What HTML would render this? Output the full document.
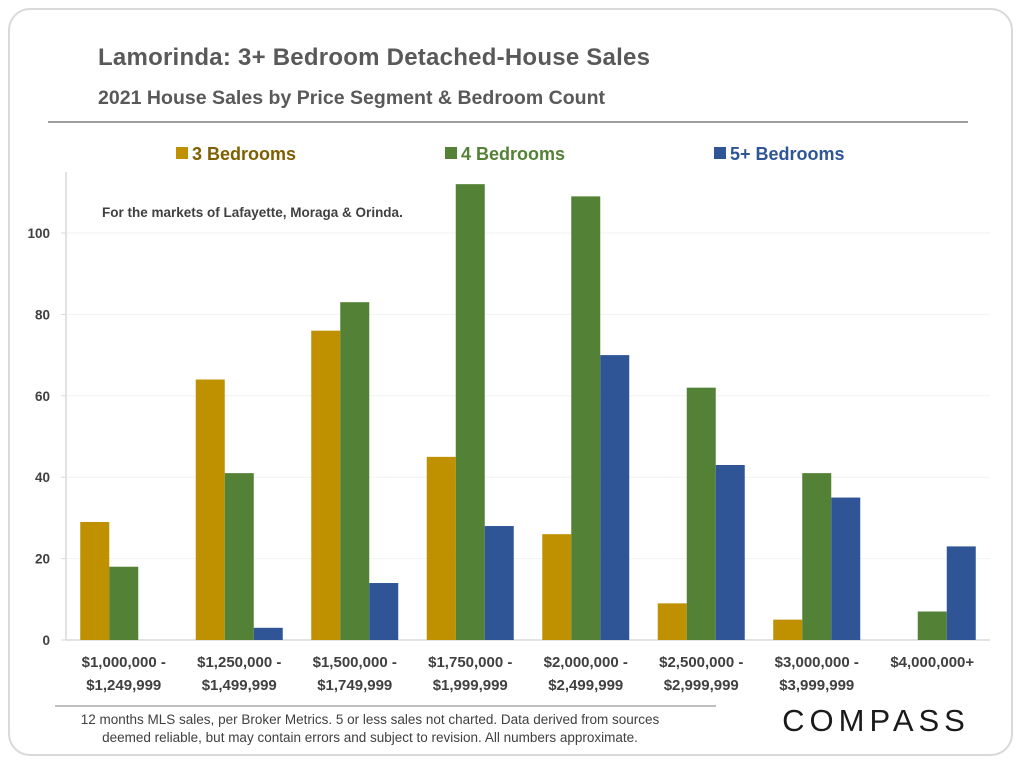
<!DOCTYPE html>
<html><head><meta charset="utf-8"><style>
body{margin:0;width:1024px;height:768px;background:#fff;font-family:"Liberation Sans",sans-serif;overflow:hidden}
#card{position:absolute;left:8px;top:8px;width:1005px;height:748px;border:2px solid #d9d9d9;border-radius:22px;box-sizing:border-box}
</style></head><body>
<div id="card"></div>
<svg id="chart" width="1024" height="768" style="position:absolute;left:0;top:0">
<text x="98" y="65" font-size="24" font-weight="bold" fill="#595959" textLength="552">Lamorinda: 3+ Bedroom Detached-House Sales</text>
<text x="98" y="104" font-size="19.5" font-weight="bold" fill="#595959" textLength="507">2021 House Sales by Price Segment &amp; Bedroom Count</text>
<line x1="48" y1="122" x2="968" y2="122" stroke="#7f7f7f" stroke-width="1.5"/>
<g>
<rect x="176" y="147" width="12" height="12" fill="#BF9000"/>
<text x="192" y="160" font-size="18" font-weight="bold" fill="#7F6000">3 Bedrooms</text>
<rect x="445" y="147" width="12" height="12" fill="#538135"/>
<text x="461" y="160" font-size="18" font-weight="bold" fill="#538135">4 Bedrooms</text>
<rect x="714" y="147" width="12" height="12" fill="#2F5597"/>
<text x="730" y="160" font-size="18" font-weight="bold" fill="#2F5597">5+ Bedrooms</text>
</g>
<text x="102" y="217" font-size="13.5" font-weight="bold" fill="#404040">For the markets of Lafayette, Moraga &amp; Orinda.</text>
<g id="plot"></g>
<line x1="55" y1="706" x2="716" y2="706" stroke="#7f7f7f" stroke-width="1"/>
<text x="370" y="724" font-size="13.5" fill="#404040" text-anchor="middle">12 months MLS sales, per Broker Metrics. 5 or less sales not charted. Data derived from sources</text>
<text x="370" y="742" font-size="13.5" fill="#404040" text-anchor="middle">deemed reliable, but may contain errors and subject to revision. All numbers approximate.</text>
<text x="876" y="731" font-size="31" fill="#1a1a1a" text-anchor="middle" letter-spacing="5">COMPASS</text>
</svg>
<script>
const categories1=["$1,000,000 -","$1,250,000 -","$1,500,000 -","$1,750,000 -","$2,000,000 -","$2,500,000 -","$3,000,000 -","$4,000,000+"];
const categories2=["$1,249,999","$1,499,999","$1,749,999","$1,999,999","$2,499,999","$2,999,999","$3,999,999",""];
const bed3=[29,64,76,45,26,9,5,0];
const bed4=[18,41,83,112,109,62,41,7];
const bed5=[0,3,14,28,70,43,35,23];
const yTicks=[0,20,40,60,80,100];
const colors=["#BF9000","#538135","#2F5597"];
const NS="http://www.w3.org/2000/svg";
const g=document.getElementById('plot');
const x0=66,x1=990,y0=640,pxPer=4.07;
const band=(x1-x0)/categories1.length;
const y=v=>y0-v*pxPer;
const xc=i=>x0+band*(i+0.5);
function mk(t,a){const e=document.createElementNS(NS,t);for(const k in a)e.setAttribute(k,a[k]);g.appendChild(e);return e;}
yTicks.forEach(v=>{
 if(v>0){const gl=mk('line',{x1:x0,x2:x1,y1:y(v),y2:y(v),stroke:'#f2f2f2'});
 
 }
 const tk=mk('line',{x1:x0-5,x2:x0,y1:y(v),y2:y(v),stroke:'#d9d9d9'});
 
 
 const t=mk('text',{x:x0-16,y:y(v)+5,'font-size':13.5,'font-weight':'bold',fill:'#404040','text-anchor':'end'});
 t.textContent=v;
 
 
});
const ax=mk('line',{x1:x0,x2:x0,y1:172,y2:y0,stroke:'#d9d9d9','stroke-width':1.5});


const xa=mk('line',{x1:x0,x2:x1,y1:y0,y2:y0,stroke:'#d9d9d9','stroke-width':1.5});


const bw=29;
[bed3,bed4,bed5].forEach((s,k)=>{
 s.forEach((v,i)=>{
  if(!v)return;
  const r=mk('rect',{x:xc(i)-1.5*bw+k*bw,y:y(v),width:bw,height:v*pxPer,fill:colors[k]});
  
  
 });
});
categories1.forEach((c,i)=>{
 const t=mk('text',{x:xc(i),y:667,'font-size':15,'font-weight':'bold',fill:'#404040','text-anchor':'middle'});
 t.textContent=c;
 
 
 if(categories2[i]){const t2=mk('text',{x:xc(i),y:690,'font-size':15,'font-weight':'bold',fill:'#404040','text-anchor':'middle'});
 t2.textContent=categories2[i];
 
 }
});
</script>
</body></html>
